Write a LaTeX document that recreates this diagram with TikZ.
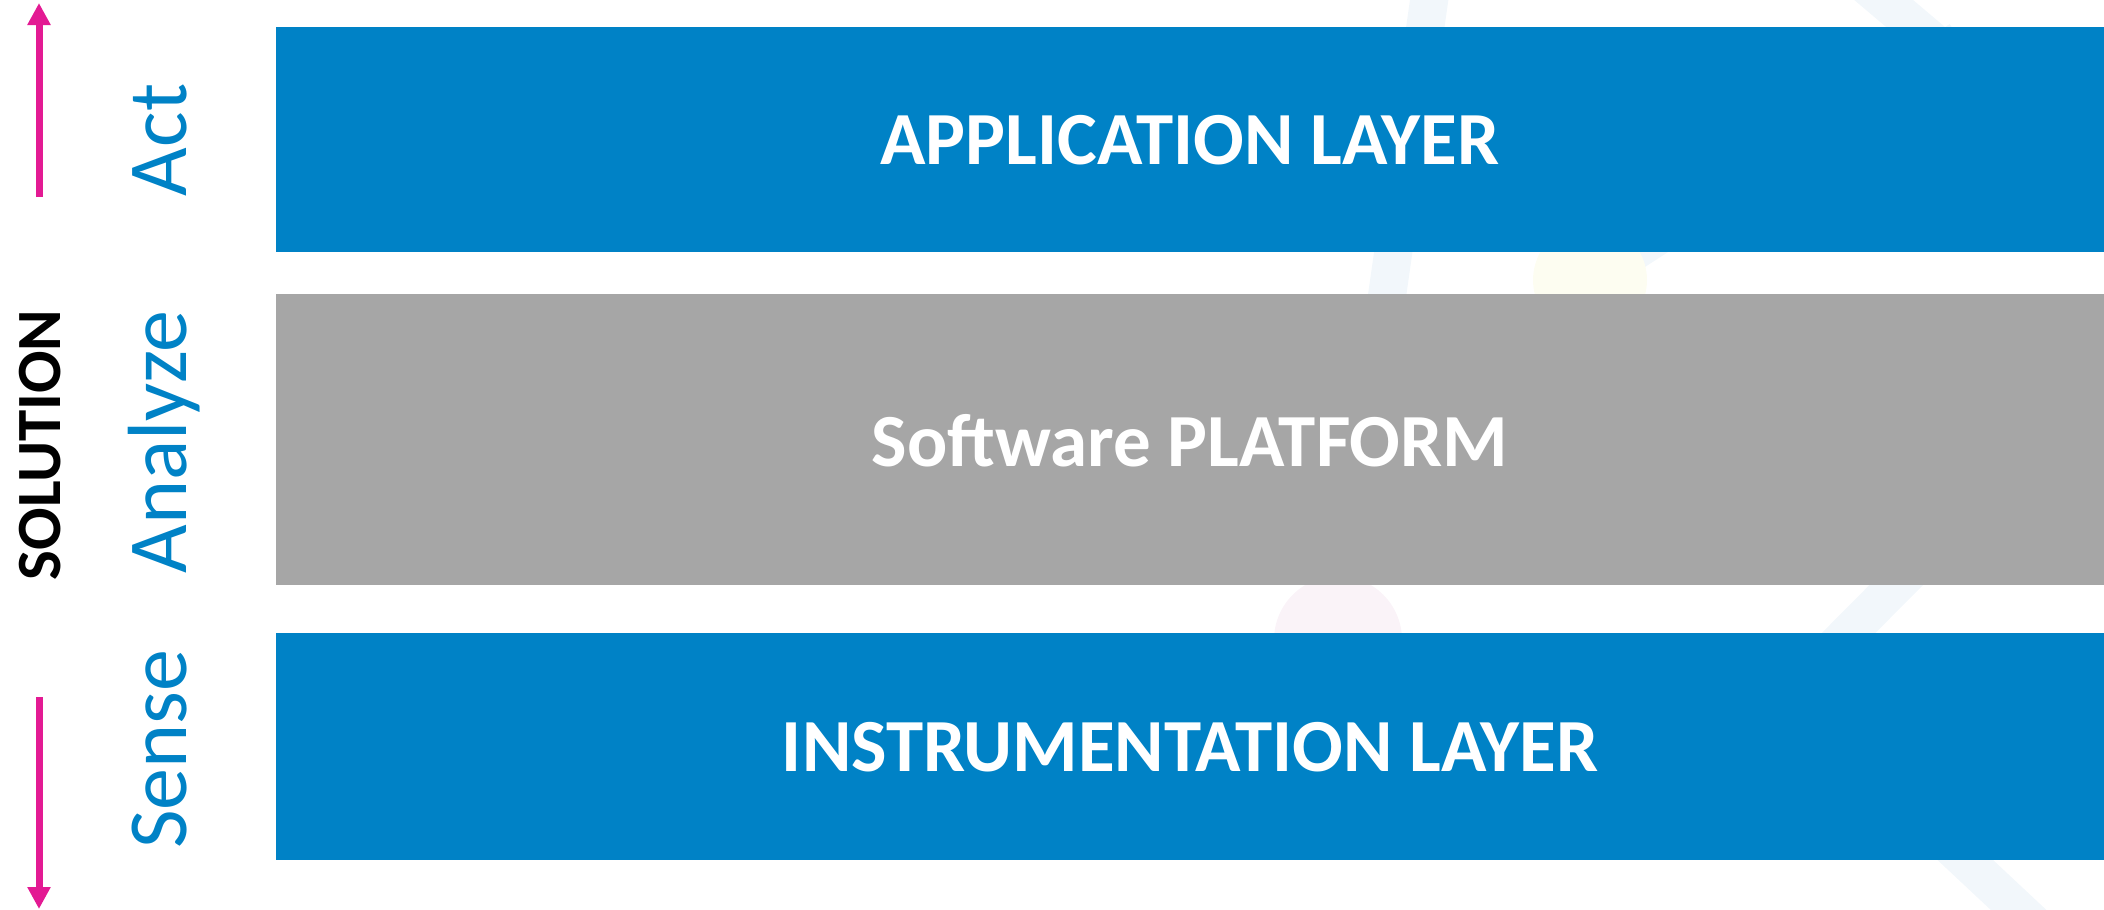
\documentclass[tikz,border=0pt]{standalone}
\usepackage{fontspec}
\setmainfont{Carlito}
\usetikzlibrary{arrows.meta}
\definecolor{layerblue}{HTML}{0082C6}
\definecolor{layergray}{HTML}{A6A6A6}
\definecolor{arrowpink}{HTML}{E31A93}
\definecolor{wmblue}{HTML}{F2F7FB}
\definecolor{wmyellow}{HTML}{FDFDF1}
\definecolor{wmpink}{HTML}{FAF3F8}
\tikzset{
  layer/.style={fill=#1, draw=none, inner sep=0pt},
  layertext/.style={text=white, font=\bfseries\fontsize{37.5pt}{42pt}\selectfont, inner sep=0pt},
  phase/.style={text=layerblue, rotate=90, anchor=base, inner sep=0pt, font=\fontsize{42pt}{48pt}\selectfont},
  soltext/.style={text=black, rotate=90, anchor=base, inner sep=0pt, font=\bfseries\fontsize{31.5pt}{36pt}\selectfont},
  flow/.style={draw=arrowpink, line width=3.5pt, -{Triangle[width=11pt,length=11pt]}},
  wmband/.style={line width=19pt, draw=#1},
}
\begin{document}
\begin{tikzpicture}[x=0.5pt,y=-0.5pt]
\useasboundingbox (0,0) rectangle (2104,910);
% faint watermark
\begin{scope}
  \draw[wmband=wmblue] (1432,-20) -- (1338,640);
  \draw[wmband=wmblue] (1338,640) -- (1720,775);
  \draw[wmband=wmblue] (1788,694) -- (2060,420);
  \draw[wmband=wmblue] (1788,694) -- (2040,930);
  \draw[wmband=wmblue] (1590,280) -- (1960,40);
  \draw[wmband=wmblue] (1860,-20) -- (2120,200);
  \fill[wmblue] (1788,694) circle (58);
  \fill[wmpink] (1338,640) circle (64);
  \fill[wmyellow] (1590,280) circle (57);
\end{scope}
% layers
\path[layer=layerblue] (276,27) rectangle (2104,252);
\path[layer=layergray] (276,294) rectangle (2104,585);
\path[layer=layerblue] (276,633) rectangle (2104,860);
\node[layertext] (app) at (1190,140.5) {APPLICATION LAYER};
\node[layertext] (plat) at (1190,440.5) {Software PLATFORM};
\node[layertext] (inst) at (1190,747.5) {INSTRUMENTATION LAYER};
% side labels
\node[phase] (act) at (186,140) {Act};
\node[phase] (analyze) at (186,442) {Analyze};
\node[phase] (sense) at (186,749) {Sense};
\node[soltext] (sol) at (60,445) {SOLUTION};
% arrows
\coordinate (upstart) at (39,197);
\coordinate (uptip) at (39,3);
\coordinate (downstart) at (39,697);
\coordinate (downtip) at (39,909);
\draw[flow] (upstart) -- (uptip);
\draw[flow] (downstart) -- (downtip);
\end{tikzpicture}
\end{document}
